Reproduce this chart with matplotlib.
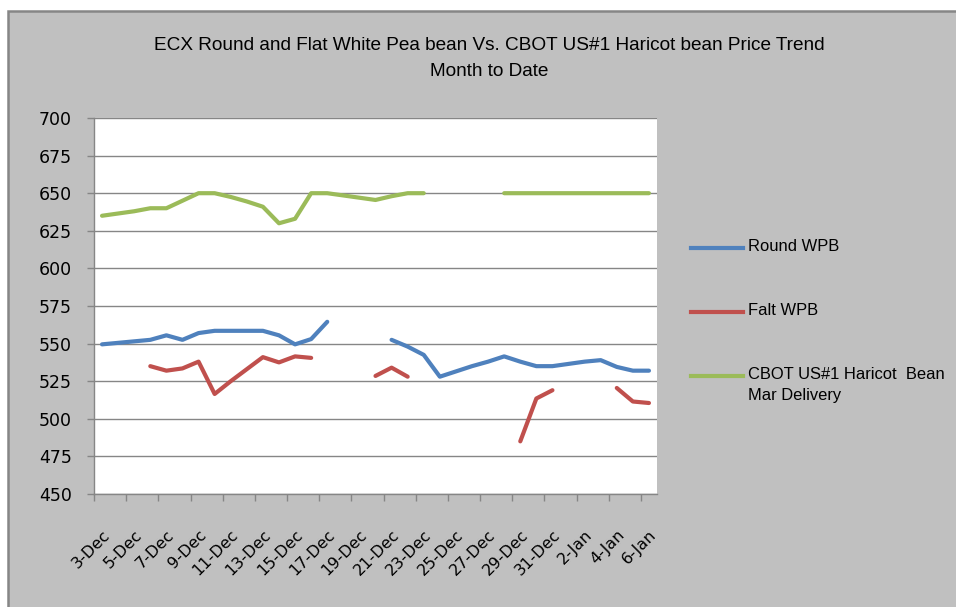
import numpy as np
import matplotlib
matplotlib.use("Agg")
import matplotlib.pyplot as plt
from matplotlib.patches import Rectangle
from matplotlib.lines import Line2D

plt.rcParams['font.family'] = ['Liberation Sans', 'DejaVu Sans']

nan = np.nan
# 35 daily slots: 3-Dec .. 6-Jan
tick_labels = ['3-Dec', '5-Dec', '7-Dec', '9-Dec', '11-Dec', '13-Dec', '15-Dec', '17-Dec',
               '19-Dec', '21-Dec', '23-Dec', '25-Dec', '27-Dec', '29-Dec', '31-Dec',
               '2-Jan', '4-Jan', '6-Jan']

round_wpb = [549.5, 550.5, 551.5, 552.5, 555.5, 552.5, 557, 558.5, 558.5, 558.5,
             558.5, 555.5, 549.5, 553, 564.5, nan, nan, nan, 552.5, 548,
             542.5, 528, 531.5, 535, 538, 541.5, 538, 535, 535, 536.5,
             538, 539, 534.5, 532, 532]
falt_wpb = [nan, nan, nan, 535, 532, 533.5, 538, 516.5, 525, 533,
            541, 537.5, 541.5, 540.5, nan, nan, nan, 528.5, 534, 528,
            nan, nan, nan, nan, nan, nan, 485, 513.5, 519, nan,
            nan, nan, 520.5, 511.5, 510.5]
cbot = [635, 636.5, 638, 640, 640, 645, 650, 650, 647.5, 644.5,
        641, 630, 633, 650, 650, 648.5, 647, 645.5, 648, 650,
        650, nan, nan, nan, nan, 650, 650, 650, 650, 650,
        650, 650, 650, 650, 650]

series_names = ['Round WPB', 'Falt WPB', 'CBOT US#1 Haricot  Bean\nMar Delivery']
series_colors = ['#4F81BD', '#C0504D', '#9BBB59']
series_values = [round_wpb, falt_wpb, cbot]

title = 'ECX Round and Flat White Pea bean Vs. CBOT US#1 Haricot bean Price Trend'
subtitle = 'Month to Date'

W, H = 956, 607
fig = plt.figure(figsize=(W / 100, H / 100), dpi=100)
fig.patch.set_facecolor('white')
bg = Rectangle((8 / W, -0.02), 1.05, (H - 11) / H + 0.02, transform=fig.transFigure,
               facecolor='#c0c0c0', edgecolor='#868686', lw=1.8, zorder=-10)
fig.patches.append(bg)

ax = fig.add_axes([94 / W, 1 - 494 / H, (657 - 94) / W, (494 - 118) / H])
ax.set_facecolor('white')

x = np.arange(len(round_wpb))
for vals, col in zip(series_values, series_colors):
    ax.plot(x, vals, color=col, lw=3.0, solid_capstyle='round', solid_joinstyle='round')

ax.set_xlim(-0.5, len(x) - 0.5)
ax.set_ylim(450, 700)
ax.set_yticks(np.arange(450, 701, 25))
ax.yaxis.grid(True, color='#868686', lw=1.0)
ax.set_axisbelow(True)
for s in ['top', 'right']:
    ax.spines[s].set_visible(False)
for s in ['left', 'bottom']:
    ax.spines[s].set_color('#868686')
    ax.spines[s].set_linewidth(1.0)

ax.tick_params(axis='y', length=5, width=1, color='#868686', pad=11)
for lab in ax.get_yticklabels():
    lab.set_fontfamily('DejaVu Sans')
    lab.set_fontsize(12.5)
ax.set_xticks(np.arange(0, len(x), 2))
ax.set_xticklabels(tick_labels, rotation=45, ha='right', rotation_mode='anchor',
                   fontsize=11.5, family='DejaVu Sans')
ax.set_xticks(np.arange(-0.5, len(x) - 1, 2), minor=True)
ax.tick_params(axis='x', which='major', length=0, pad=24)
ax.tick_params(axis='x', which='minor', length=5, width=1, color='#868686')

fig.text(489 / W, 1 - 46 / H, title, ha='center', va='center', fontsize=13.7)
fig.text(489 / W, 1 - 72 / H, subtitle, ha='center', va='center', fontsize=13.7)

leg_y = [248, 312, 376]
for name, col, yy in zip(series_names, series_colors, leg_y):
    fig.add_artist(Line2D([691 / W, 743 / W], [1 - yy / H, 1 - yy / H], color=col, lw=3.0,
                          transform=fig.transFigure))
    fig.text(748 / W, 1 - (yy - 9) / H, name, ha='left', va='top', fontsize=11.9,
             linespacing=1.5)

fig.savefig('out.png', dpi=100, facecolor=fig.get_facecolor())
